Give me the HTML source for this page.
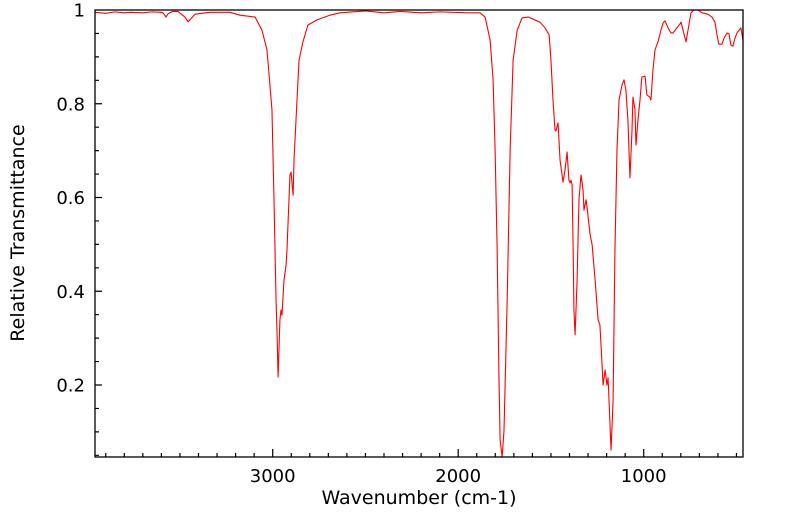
<!DOCTYPE html>
<html><head><meta charset="utf-8"><style>
body{margin:0;background:#fff;}
svg{display:block;font-family:"DejaVu Sans","Liberation Sans",sans-serif;}
</style></head><body>
<svg id="chart" width="799" height="516" viewBox="0 0 799 516" xmlns="http://www.w3.org/2000/svg">
<defs><clipPath id="pc"><rect x="95" y="10" width="648" height="447"/></clipPath></defs>
<g id="ticks"></g>
<g id="labels"></g>
<path id="line" fill="none" stroke="#ff0000" stroke-width="1.1" stroke-linejoin="round" clip-path="url(#pc)"/>
<rect x="95" y="10" width="648" height="447" fill="none" stroke="#000" stroke-width="1.3"/>
<text x="419" y="504" text-anchor="middle" font-size="19">Wavenumber (cm-1)</text>
<text transform="translate(24,233) rotate(-90)" text-anchor="middle" font-size="19">Relative Transmittance</text>
</svg>
<script>
const wavenumbers=[3958,3900,3850,3800,3769,3700,3650,3600,3591,3575,3564,3540,3511,3473,3457,3446,3419,3338,3230,3176,3095,3058,3031,3015,3004,2993,2982,2977,2971,2961,2955,2950,2939,2928,2923,2907,2901,2890,2885,2869,2858,2837,2810,2761,2691,2637,2500,2400,2314,2200,2100,1950,1882,1855,1828,1812,1801,1790,1780,1774,1763,1753,1736,1720,1704,1682,1656,1623,1559,1532,1510,1500,1489,1478,1473,1462,1451,1435,1424,1413,1403,1397,1392,1386,1381,1376,1370,1359,1349,1338,1327,1322,1311,1305,1289,1278,1262,1246,1236,1230,1219,1208,1198,1192,1187,1176,1165,1155,1144,1133,1117,1106,1096,1085,1074,1063,1058,1047,1042,1031,1020,1010,993,983,967,961,950,939,923,907,896,885,869,853,842,821,805,799,788,772,761,745,729,707,686,654,632,616,605,595,578,567,551,540,530,519,508,497,486,476,465];
const transmittance=[.995,.993,.996,.994,.995,.994,.996,.995,.994,.985,.992,.997,.997,.985,.975,.979,.991,.995,.995,.989,.985,.957,.915,.840,.787,.595,.381,.317,.217,.339,.360,.349,.424,.456,.488,.648,.654,.605,.680,.808,.893,.932,.968,.979,.989,.994,.998,.994,.997,.994,.996,.994,.994,.985,.936,.851,.701,.488,.211,.083,.046,.104,.381,.701,.893,.957,.983,.985,.974,.962,.947,.893,.808,.744,.742,.759,.680,.633,.659,.697,.637,.631,.637,.627,.509,.360,.307,.424,.595,.648,.616,.573,.595,.578,.521,.499,.424,.339,.328,.285,.200,.232,.200,.215,.168,.061,.168,.488,.701,.808,.840,.851,.829,.765,.642,.744,.814,.787,.712,.765,.808,.857,.859,.819,.814,.808,.872,.915,.932,.957,.972,.977,.962,.951,.951,.962,.970,.974,.957,.932,.957,.994,1.0,1.0,.994,.991,.985,.974,.947,.927,.927,.940,.951,.949,.925,.923,.940,.951,.957,.962,.936];
const xTickLabels=[3000,2000,1000];
const yTickLabels=[0.2,0.4,0.6,0.8,1];
const NS="http://www.w3.org/2000/svg";
function xs(w){return 272.7+(3000-w)*0.1855;}
function ys(t){return 10+(1-t)*468.75;}
let d="";
for(let i=0;i<wavenumbers.length;i++){d+=(i?"L":"M")+xs(wavenumbers[i]).toFixed(2)+","+ys(transmittance[i]).toFixed(2);}
document.getElementById("line").setAttribute("d",d);
const tg=document.getElementById("ticks"),lg=document.getElementById("labels");
let td="";
for(let w=500;w<=3900;w+=100){const x=xs(w);const L=(w%1000===0)?8:4;td+="M"+x+",457v-"+L;}
for(let k=1;k<=19;k++){const t=k*0.05;const y=ys(t);const L=(k%4===0)?7:4;td+="M95,"+y+"h"+L;}
const tp=document.createElementNS(NS,"path");


tp.setAttribute("d",td);tp.setAttribute("stroke","#000");tp.setAttribute("stroke-width","1.2");
tg.appendChild(tp);
xTickLabels.forEach(v=>{const t=document.createElementNS(NS,"text");


t.setAttribute("x",xs(v));t.setAttribute("y",482);t.setAttribute("text-anchor","middle");t.setAttribute("font-size","18");t.textContent=v;lg.appendChild(t);});
yTickLabels.forEach(v=>{const t=document.createElementNS(NS,"text");


t.setAttribute("x",85);t.setAttribute("y",ys(v)+6.5);t.setAttribute("text-anchor","end");t.setAttribute("font-size","18");t.textContent=String(v);lg.appendChild(t);});
</script>
</body></html>
